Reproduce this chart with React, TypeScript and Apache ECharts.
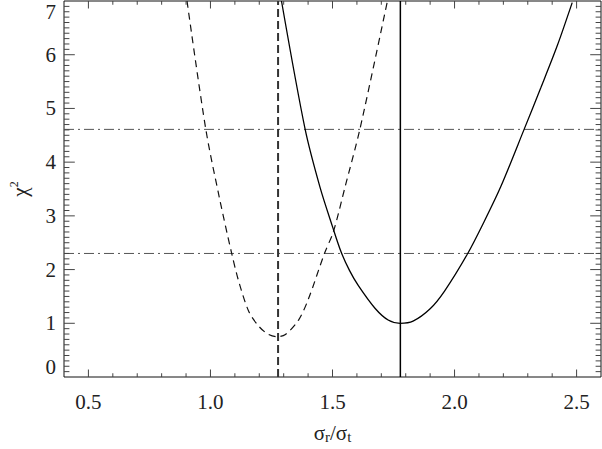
import React, { useEffect, useRef } from "react";
import * as echarts from "echarts";

// Delta chi^2 curves: [sigma_r/sigma_t, chi^2]
const dashedCurve: [number, number][] = [
  [0.904, 7.0], [0.981, 4.61], [1.036, 3.35], [1.087, 2.3], [1.117, 1.76],
  [1.158, 1.21], [1.199, 0.94], [1.235, 0.8], [1.273, 0.75], [1.307, 0.79],
  [1.361, 1.06], [1.402, 1.46], [1.467, 2.3], [1.504, 2.71], [1.551, 3.53],
  [1.612, 4.61], [1.725, 7.0],
];
const solidCurve: [number, number][] = [
  [1.291, 7.0], [1.388, 4.61], [1.449, 3.53], [1.5, 2.8], [1.535, 2.33],
  [1.57, 1.98], [1.606, 1.7], [1.674, 1.28], [1.728, 1.06], [1.777, 1.0],
  [1.83, 1.04], [1.9, 1.27], [1.959, 1.6], [2.054, 2.3], [2.122, 2.9],
  [2.19, 3.55], [2.285, 4.61], [2.353, 5.38], [2.421, 6.17], [2.482, 6.97],
];
const bestFitDashed = 1.277;
const bestFitSolid = 1.778;
const confidenceLevels = [2.3, 4.61];

const xRange = [0.4, 2.6];
const yRange = [0, 7];
const xMajorTicks = [0.5, 1.0, 1.5, 2.0, 2.5];
const xMinorStep = 0.1;
const yMinorStep = 0.1;

const FONT = "'Liberation Serif', 'Times New Roman', serif";
const GRID = { left: 61, right: 1, top: 1, bottom: 66 };
const W = 602;
const H = 449;
const TICK_COLOR = "#444";

// tick marks as small rect symbols anchored on the frame, pointing inward
function tickItems() {
  const items: any[] = [];
  const nx = Math.round((xRange[1] - xRange[0]) / xMinorStep);
  for (let i = 1; i < nx; i++) {
    const v = +(xRange[0] + i * xMinorStep).toFixed(3);
    const len = xMajorTicks.some((m) => Math.abs(m - v) < 1e-6) ? 7.6 : 3.8;
    items.push({ value: [v, yRange[0]], symbolSize: [1, len], symbolOffset: [0, -len / 2] });
    items.push({ value: [v, yRange[1]], symbolSize: [1, len], symbolOffset: [0, len / 2] });
  }
  const ny = Math.round((yRange[1] - yRange[0]) / yMinorStep);
  for (let i = 1; i < ny; i++) {
    const v = +(yRange[0] + i * yMinorStep).toFixed(3);
    const len = Math.abs(v - Math.round(v)) < 1e-6 ? 10.8 : 5.4;
    items.push({ value: [xRange[0], v], symbolSize: [len, 1], symbolOffset: [len / 2, 0] });
    items.push({ value: [xRange[1], v], symbolSize: [len, 1], symbolOffset: [-len / 2, 0] });
  }
  return items;
}

export default function App() {
  const ref = useRef<HTMLDivElement>(null);
  useEffect(() => {
    if (!ref.current) return;
    const chart = echarts.init(ref.current, null, { renderer: "svg" });
    const option: any = {
      animation: false,
      backgroundColor: "#fff",
      grid: {
        ...GRID,
        show: true, borderColor: "#111", borderWidth: 1, backgroundColor: "transparent",
      },
      xAxis: {
        type: "value",
        min: xRange[0],
        max: xRange[1],
        splitLine: { show: false },
        axisLine: { show: false },
        axisTick: { show: false },
        axisLabel: {
          show: true,
          customValues: xMajorTicks,
          margin: 14,
          fontFamily: FONT,
          fontSize: 21,
          color: "#222",
          formatter: (v: number) => v.toFixed(1),
        },
        name: "{s|σ}{sub|r}{s|/σ}{sub|t}",
        nameLocation: "middle",
        nameGap: 45,
        nameTextStyle: {
          rich: {
            s: { fontFamily: FONT, fontSize: 21, color: "#222", verticalAlign: "top", lineHeight: 22 },
            sub: { fontFamily: FONT, fontSize: 15, color: "#222", verticalAlign: "bottom", lineHeight: 16, padding: [12, 0, 0, 0] },
          },
        },
      },
      yAxis: {
        type: "value",
        min: yRange[0],
        max: yRange[1],
        interval: 1,
        splitLine: { show: false },
        axisLine: { show: false },
        axisTick: { show: false },
        axisLabel: {
          show: true,
          margin: 8,
          fontFamily: FONT,
          fontSize: 21,
          color: "#222",
          showMinLabel: true,
          showMaxLabel: true,
          verticalAlignMinLabel: "bottom",
          verticalAlignMaxLabel: "top",
        },
        name: "{c|χ}{sup|2}",
        nameLocation: "middle",
        nameGap: 34,
        nameTextStyle: {
          rich: {
            c: { fontFamily: FONT, fontSize: 21, color: "#222", verticalAlign: "bottom", lineHeight: 22 },
            sup: { fontFamily: FONT, fontSize: 12, color: "#222", verticalAlign: "top", lineHeight: 22, padding: [0, 0, 10, 0] },
          },
        },
      },
      series: [
        {
          type: "scatter",
          data: tickItems(),
          symbol: "rect",
          silent: true,
          clip: false,
          z: 5,
          itemStyle: { color: TICK_COLOR, borderWidth: 0, opacity: 1 },
        },
        ...confidenceLevels.map((lvl) => ({
          type: "line",
          data: [[xRange[0], lvl], [xRange[1], lvl]],
          showSymbol: false,
          silent: true,
          lineStyle: { color: "#555", width: 1, type: [10, 4, 2, 4] },
        })),
        {
          type: "line",
          data: [[bestFitDashed, yRange[0]], [bestFitDashed, yRange[1]]],
          showSymbol: false,
          silent: true,
          lineStyle: { color: "#333", width: 2, type: [8, 4] },
        },
        {
          type: "line",
          data: [[bestFitSolid, yRange[0]], [bestFitSolid, yRange[1]]],
          showSymbol: false,
          silent: true,
          lineStyle: { color: "#000", width: 1.5, type: "solid" },
        },
        {
          type: "line",
          data: dashedCurve,
          showSymbol: false,
          silent: true,
          smooth: 0.3,
          lineStyle: { color: "#111", width: 1.2, type: [7, 5] },
        },
        {
          type: "line",
          data: solidCurve,
          showSymbol: false,
          silent: true,
          smooth: 0.3,
          lineStyle: { color: "#000", width: 1.3, type: "solid" },
        },
      ],
    };
    chart.setOption(option);
    return () => chart.dispose();
  }, []);
  return (
    <div
      ref={ref}
      style={{ position: "absolute", left: 0, top: 0, width: W, height: H, background: "#fff" }}
    />
  );
}
